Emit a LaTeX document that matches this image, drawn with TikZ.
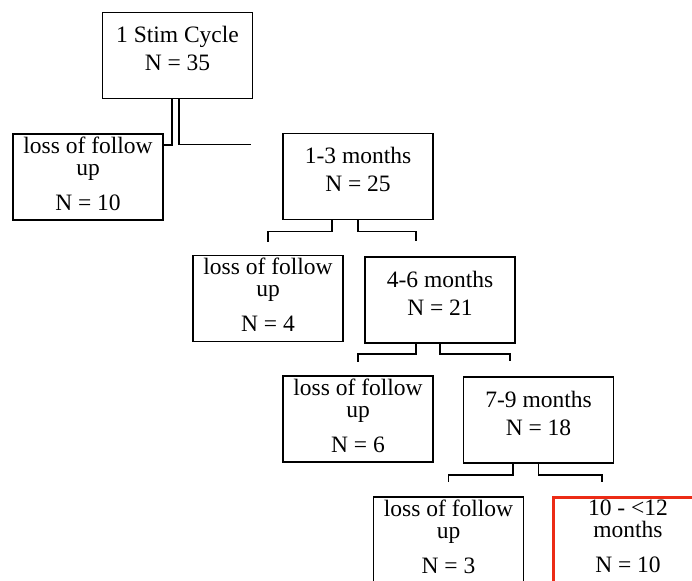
\documentclass[tikz,border=0pt]{standalone}
\usepackage{fontspec}
\setmainfont{Liberation Serif}
\usepackage{tikz}
\definecolor{stopred}{RGB}{236,43,22}

\begin{document}
\begin{tikzpicture}[x=1pt, y=-1pt,
    box/.style={draw, line width=1.8pt, minimum width=150pt, minimum height=86pt, inner sep=0pt, align=center, font=\fontsize{23.5}{22}\selectfont},
    link/.style={line width=1.8pt}]
    \useasboundingbox (0, 0) rectangle (692, 580);
    \clip (0, 0) rectangle (692, 580);
    \node[box] (c) at (177.5, 55.5) {1 Stim Cycle\\[6pt]N = 35\\[-8pt]{}};
    \node[box] (l1) at (88, 177) {loss of follow\\up\\[13pt]N = 10\\[-15pt]{}};
    \node[box] (m1) at (358, 176.5) {1-3 months\\[6pt]N = 25\\[-8pt]{}};
    \draw [link] ([xshift=-5.5pt]c.south) |- ([yshift=-12pt]l1.north east);
    \draw [link] ([xshift=1.5pt]c.south) |- ([xshift=-31pt,yshift=-12pt]m1.north west);
    \node[box] (l2) at (268, 298.5) {loss of follow\\up\\[13pt]N = 4\\[-15pt]{}};
    \node[box] (m2) at (440, 300) {4-6 months\\[6pt]N = 21\\[-8pt]{}};
    \draw [link] ([xshift=-26pt]m1.south) -- ++(0, 11) -| ([yshift=13pt]l2.north);
    \draw [link] (m1.south) -- ++(0, 11) -| ([xshift=-24pt,yshift=15pt]m2.north);
    \node[box] (l3) at (358, 419) {loss of follow\\up\\[13pt]N = 6\\[-15pt]{}};
    \node[box] (m3) at (538.5, 420) {7-9 months\\[6pt]N = 18\\[-8pt]{}};
    \draw [link] ([xshift=-24pt]m2.south) -- ++(0, 10) -| ([yshift=13pt]l3.north);
    \draw [link] (m2.south) -- ++(0, 10) -| ([xshift=-28.5pt,yshift=15pt]m3.north);
    \node[box] (l4) at (448.5, 540) {loss of follow\\up\\[13pt]N = 3\\[-15pt]{}};
    \node[box, draw=stopred, line width=3pt] (m4) at (628, 540) {10 - <12\\months\\[13pt]N = 10\\[-15pt]{}};
    \draw [link] ([xshift=-25.5pt]m3.south) -- ++(0, 11) -| ([yshift=14pt]l4.north);
    \draw [link] (m3.south) -- ++(0, 11) -| ([xshift=-26pt,yshift=14pt]m4.north);
\end{tikzpicture}
\end{document}
